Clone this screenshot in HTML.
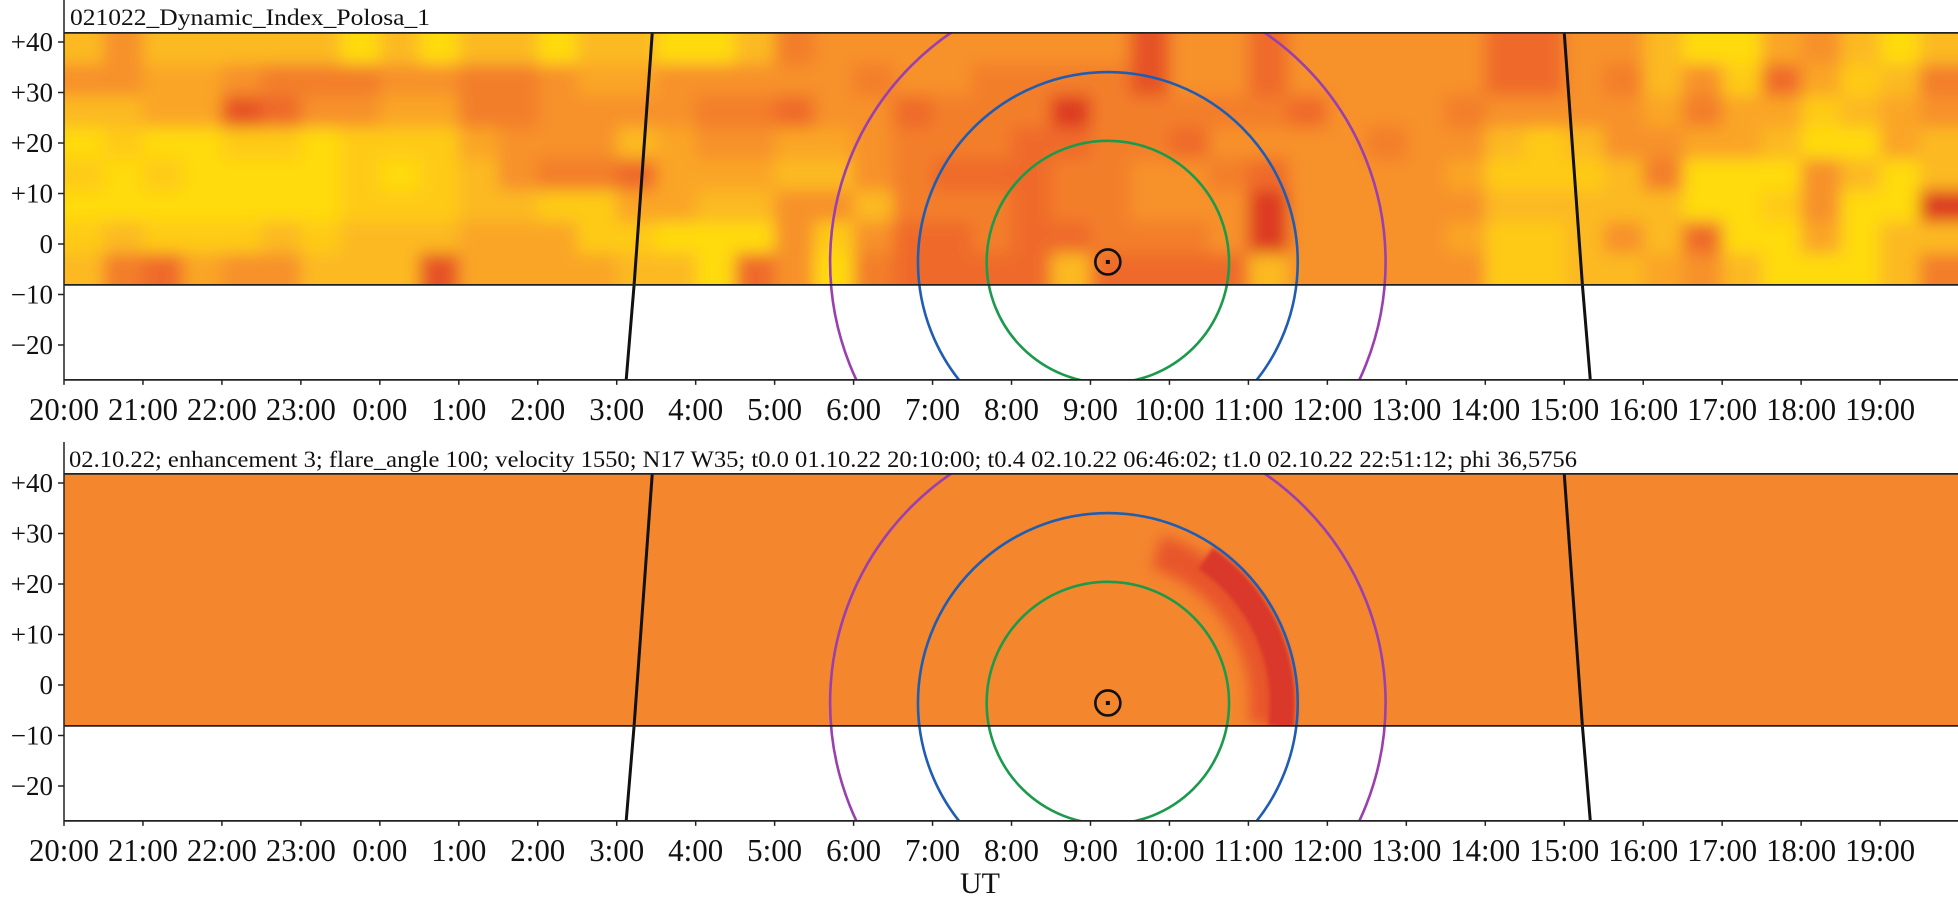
<!DOCTYPE html>
<html><head><meta charset="utf-8">
<style>
html,body{margin:0;padding:0;background:#fff;width:1958px;height:904px;overflow:hidden;}
svg{display:block;font-family:"Liberation Serif",serif;overflow:hidden;}
</style></head>
<body>
<svg id="chart" width="1958" height="904" viewBox="0 0 1958 904" xmlns="http://www.w3.org/2000/svg">
<defs>
<filter id="blurHeat" filterUnits="userSpaceOnUse" x="0" y="0" width="1958" height="400"><feGaussianBlur stdDeviation="8"/></filter>
<filter id="blurC1" filterUnits="userSpaceOnUse" x="900" y="400" width="600" height="400"><feGaussianBlur stdDeviation="7"/></filter>
<filter id="blurC2" filterUnits="userSpaceOnUse" x="900" y="400" width="600" height="400"><feGaussianBlur stdDeviation="2"/></filter>
<clipPath id="clipTop"><rect x="64" y="32" width="1894" height="348"/></clipPath>
<clipPath id="clipBandTop"><rect x="64" y="32" width="1894" height="253"/></clipPath>
<clipPath id="clipBot"><rect x="64" y="473" width="1894" height="348"/></clipPath>
<clipPath id="clipBandBot"><rect x="64" y="473" width="1894" height="253"/></clipPath>
</defs>
</svg>
<script>
// ---- data ----
const hourLabels = ["20:00","21:00","22:00","23:00","0:00","1:00","2:00","3:00","4:00","5:00","6:00","7:00","8:00","9:00","10:00","11:00","12:00","13:00","14:00","15:00","16:00","17:00","18:00","19:00"];
const latTicks = [40,30,20,10,0,-10,-20];
const latTickLabels = ["+40","+30","+20","+10","0","\u221210","\u221220"];
const heatRow0 = [1,2,1,1,1,1,1,0,1,0,1,1,0,1,1,0,0,1,2.5,2,2,2,2,2,2,2,2,3.5,2,2,3,2,2,2,2,2,3,3,2,2,1,0,0,1.5,2,1,0,1];
const heatRow1 = [2,2,1.5,1.5,2,2.5,2.5,2.5,2,2,2.5,2.5,2,1.5,1.5,2,2,2,2,2,2.5,2,2,2.5,2.5,2.5,2.5,3.5,2,2,3,2,2,2,2,2,3,3,2,2.5,1,2,0.5,3,1.5,0.5,1,2.5];
const heatRow2 = [1,1,1.5,1.5,3.5,3,2,2,1.5,1.5,2.5,2.5,2,2,2,2,2.5,2.5,3,2,2,3,2.5,2.5,2.5,4,2.5,2.5,2.5,2.5,2.5,3,2,2,2,2.5,2,2,2,2,1.5,2.5,1.5,1.5,0.5,1,1.5,2];
const heatRow3 = [0,0.5,0,0,0.5,0.5,0,0.5,0.5,0.5,1.5,2,2,2,1,1.5,2,2,1.5,1.5,2,2.5,2.5,2.5,3,3,2.5,2.5,3,2,2,2,2,2.5,2,2,1,0.5,1,2,2,1.5,1.5,1,0,0,1.5,1];
const heatRow4 = [0.5,0,0.5,0,0,0,0,0.5,0,0.5,1,2,2.5,2.5,3,1.5,1.5,1.5,1,1,2,2.5,3,3,3,2.5,2.5,2,2,2.5,3,2,2,2,2,1.5,0.5,0.5,0.5,1,2.5,0,0,0,2,1,0,1];
const heatRow5 = [0,0,0,0,0,0,0,0.5,0.5,0.5,1,1,0.5,0.5,1.5,1.5,1,1,2,2,1,2.5,2.5,2.5,3,2.5,2.5,2,2,2,4,2,2,2,2,2,1,1,1,1,1,0,0,0.5,2,0,0,4];
const heatRow6 = [0.5,1,0.5,0.5,0.5,1,0.5,1,1,1,1.5,1.5,1.5,0.5,0.5,0,0,0,2,0.5,2,3,3,2.5,3,3,2.5,2.5,2.5,2,4,2,2,2,2,1.5,0.5,0.5,1,2,1,3,0,0,1.5,0,1,1];
const heatRow7 = [1,2.5,3,1.5,2,2,1,1,1,3.5,1.5,1.5,1.5,1.5,1,1,0,3,2,0,2.5,3,3,3,3,1,3,3,3,3,1,2,2,2,2,2,0.5,0.5,1,1,1.5,2,1,0,0,0,1,2.5];
const heatRows = [heatRow0,heatRow1,heatRow2,heatRow3,heatRow4,heatRow5,heatRow6,heatRow7];
const sunCenter = [13.22, -3.56];
const circleRadii = [24, 37.6, 55];
const circleColors = ["#1b9a4b","#1f5db3","#9a40ae"];
const limbLeftH = [7.45, 7.22, 7.12];
const limbRightH = [19.0, 19.23, 19.33];
const limbLat = [41.8, -8.1, -26.9];
const bandLat = [41.8, -8.1];
const axisLat = [41.8, -26.9];
const crescentAngles = [-72, 8];
const crescentCoreAngles = [-56, 8];
const crescentRadiiDeg = [31.5, 34.6];

// ---- axes ----
const X0 = 64, PXH = 78.96;
const PXD = 5.05;
function xs(h){ return X0 + h*PXH; }
function ysTop(l){ return 244 - l*PXD; }
const PANEL_OFF = 441;

const NS = "http://www.w3.org/2000/svg";
const svg = document.getElementById('chart');
function mk(tag, attrs, parent){
  const e = document.createElementNS(NS, tag);
  for (const k in attrs) e.setAttribute(k, attrs[k]);
  (parent||svg).appendChild(e);
  return e;
}
const heatColors = ["#ffda0a","#fcb923","#f7912c","#ef6a29","#dd3a24"];
function heatColor(v){
  const i = Math.max(0, Math.min(3, Math.floor(v)));
  const t = Math.min(1, v - i);
  const a = heatColors[i], b = heatColors[i+1];
  const p = s => [parseInt(s.substr(1,2),16),parseInt(s.substr(3,2),16),parseInt(s.substr(5,2),16)];
  const A = p(a), B = p(b);
  return "rgb(" + A.map((c,k)=>Math.round(c+(B[k]-c)*t)).join(",") + ")";
}

function drawPanel(idx){
  const off = idx*PANEL_OFF;
  const ys = l => ysTop(l) + off;
  const g = mk('g', {});
  
  
  const yTop = ys(axisLat[0]), yBand = ys(bandLat[1]), yAxis = ys(axisLat[1]);
  const bandG = mk('g', {'clip-path': idx===0 ? 'url(#clipBandTop)' : 'url(#clipBandBot)'}, g);
  
  
  if (idx===0){
    mk('rect', {x:X0, y:yTop, width:1894, height:yBand-yTop, fill:'#f7a02a'}, bandG);
    const hg = mk('g', {filter:'url(#blurHeat)'}, bandG);
    const nR = heatRows.length, nC = heatRows[0].length;
    const ch = (yBand-yTop)/nR, cw = 24/nC;
    heatRows.forEach((row, r) => {
      row.forEach((v, c) => {
        let x0 = xs(c*cw), x1 = xs((c+1)*cw), y0 = yTop + r*ch, y1 = y0 + ch;
        if (c===0) x0 -= 30; if (c===nC-1) x1 += 30;
        if (r===0) y0 -= 30; if (r===nR-1) y1 += 30;
        const cell = mk('rect', {x:x0, y:y0, width:x1-x0+0.5, height:y1-y0+0.5, fill:heatColor(v)}, hg);
        
        
      });
    });
  } else {
    mk('rect', {x:X0, y:yTop, width:1894, height:yBand-yTop, fill:'#f4862e'}, bandG);
    const cx = xs(sunCenter[0]), cy = ys(sunCenter[1]);
    function arc(rDeg, a0, a1){
      const r = rDeg*PXD, t0 = a0*Math.PI/180, t1 = a1*Math.PI/180;
      return "M"+(cx+r*Math.cos(t0))+","+(cy+r*Math.sin(t0))+" A"+r+","+r+" 0 0 1 "+(cx+r*Math.cos(t1))+","+(cy+r*Math.sin(t1));
    }
    const glow = mk('path', {d:arc(crescentRadiiDeg[0], crescentAngles[0], crescentAngles[1]), stroke:'#e8552c', 'stroke-width':34, fill:'none', filter:'url(#blurC1)'}, bandG);
    
    
    const core = mk('path', {d:arc(crescentRadiiDeg[1], crescentCoreAngles[0], crescentCoreAngles[1]), stroke:'#d9382a', 'stroke-width':26, fill:'none', filter:'url(#blurC2)'}, bandG);
    
    
  }
  const cg = mk('g', {'clip-path': idx===0 ? 'url(#clipTop)' : 'url(#clipBot)'}, g);
  const cx = xs(sunCenter[0]), cy = ys(sunCenter[1]);
  circleRadii.forEach((rd, i) => {
    const c = mk('circle', {cx:cx, cy:cy, r:rd*PXD, fill:'none', stroke:circleColors[i], 'stroke-width':2.6}, cg);
    
    
  });
  [limbLeftH, limbRightH].forEach((arr, i) => {
    const pts = arr.map((h,k) => xs(h)+","+ys(limbLat[k])).join(" ");
    const pl = mk('polyline', {points:pts, fill:'none', stroke:'#111', 'stroke-width':3}, cg);
    
    
  });
  const sun = mk('circle', {cx:cx, cy:cy, r:12.5, fill:'none', stroke:'#111', 'stroke-width':2.6}, cg);
  
  
  mk('rect', {x:cx-2, y:cy-2, width:4, height:4, fill:'#111'}, cg);
  const frameTop = idx===0 ? 0 : 442;
  mk('line', {x1:X0, y1:frameTop, x2:X0, y2:yAxis, stroke:'#222', 'stroke-width':1.5}, g);
  [yTop, yBand, yAxis].forEach(yy => mk('line', {x1:X0, y1:yy, x2:1958, y2:yy, stroke:'#222', 'stroke-width':1.8}, g));
  latTicks.forEach((l, i) => {
    const yy = ys(l);
    mk('line', {x1:58, y1:yy, x2:X0, y2:yy, stroke:'#222', 'stroke-width':1.5}, g);
    const t = mk('text', {x:53, y:yy+9, 'font-size':27, 'text-anchor':'end', fill:'#111'}, g);
    t.textContent = latTickLabels[i];
    
    
  });
  hourLabels.forEach((lab, i) => {
    const xx = xs(i);
    mk('line', {x1:xx, y1:yAxis, x2:xx, y2:yAxis+5, stroke:'#222', 'stroke-width':1.5}, g);
    const t = mk('text', {x:xx, y:yAxis+40, 'font-size':32, 'text-anchor':'middle', fill:'#111', textLength: lab.length===5 ? 70 : 55, lengthAdjust:'spacingAndGlyphs'}, g);
    t.textContent = lab;
    
    
  });
}
drawPanel(0);
drawPanel(1);

const t1 = mk('text', {x:70, y:25, 'font-size':23, fill:'#111', textLength:360, lengthAdjust:'spacingAndGlyphs'});
t1.textContent = "021022_Dynamic_Index_Polosa_1";


const t2 = mk('text', {x:69, y:467, 'font-size':23, fill:'#111', textLength:1508, lengthAdjust:'spacingAndGlyphs'});
t2.textContent = "02.10.22; enhancement 3; flare_angle 100; velocity 1550; N17 W35; t0.0 01.10.22 20:10:00; t0.4 02.10.22 06:46:02; t1.0 02.10.22 22:51:12; phi 36,5756";


const ut = mk('text', {x:980, y:893, 'font-size':30, 'text-anchor':'middle', fill:'#111'});
ut.textContent = "UT";


</script>
</body></html>
